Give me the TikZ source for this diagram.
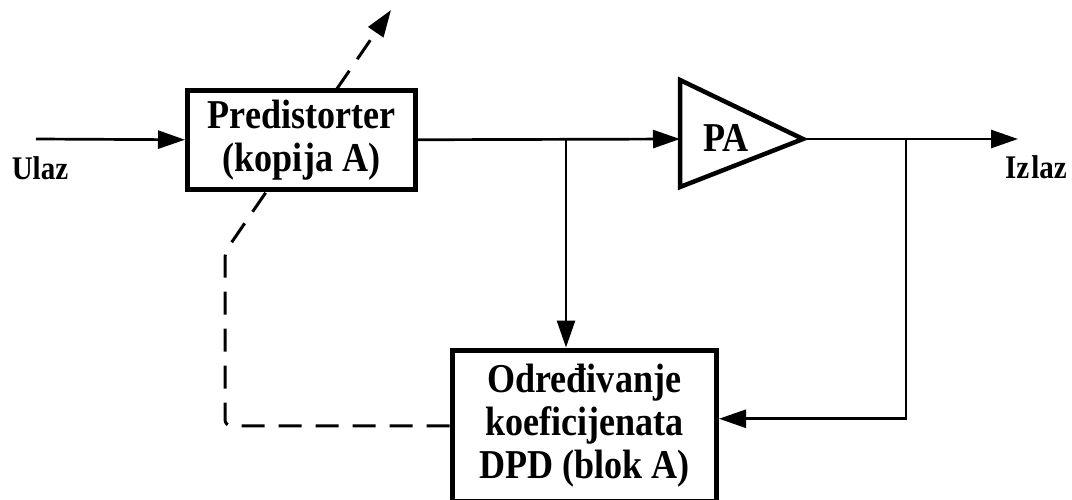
\documentclass[tikz,border=0pt]{standalone}
\usepackage{fontspec}
\setmainfont{Liberation Serif}[FakeStretch=0.88]
\usetikzlibrary{arrows.meta,backgrounds,calc}

\tikzset{
  blok/.style={draw, line width=5pt, fill=white, rectangle, align=center,
    inner sep=0pt, font=\bfseries\fontsize{41}{43}\selectfont},
  oznaka/.style={inner sep=0pt, font=\bfseries\fontsize{33}{36}\selectfont},
  vrh/.style={-{Triangle[length=27pt,width=18pt]}},
  veza/.style={line width=2.7pt, vrh},
  isprekidano/.style={line width=3pt, dash pattern=on 23pt off 14pt,
    rounded corners=6pt, vrh},
}

\begin{document}
\begin{tikzpicture}[x=1pt, y=-1pt]
  \useasboundingbox (0,0) rectangle (1072,499);

  % blocks
  \node[blok, minimum width=228pt, minimum height=99.5pt] (pre) at (301.5,139.75)
    {Predistorter\\(kopija A)};
  \node[blok, minimum width=264.5pt, minimum height=151.5pt] (dpd) at (584.25,425.75)
    {Određivanje\\koeficijenata\\DPD (blok A)};

  % power amplifier
  \coordinate (pa-in) at (680,139);
  \coordinate (pa-out) at (803,139);
  \draw[line width=4.5pt, line join=miter] (680,80) -- (pa-out) -- (680,187) -- cycle;
  \node[inner sep=0pt, font=\bfseries\fontsize{41}{43}\selectfont] (pa) at (726,138) {PA};

  % port labels
  \node[oznaka] (ulaz) at (40,168) {Ulaz};
  \node[oznaka] (izlaz) at (1036,167) {Iz\kern2pt laz};

  % signal path
  \coordinate (ul) at (36,139);
  \coordinate (iz) at (1018,139);
  \coordinate (g1) at (566,139);
  \coordinate (g2) at (906,139);
  \draw[veza] (ul) -- (pre.west);
  \draw[veza] (pre.east) -- (pa-in);
  \draw[veza] (pa-out) -- (iz);
  \draw[veza] (g1) -- (g1 |- dpd.north);
  \draw[veza] (g2) |- ([yshift=7pt]dpd.east);

  % coefficient update path (behind the predistorter block)
  \coordinate (kut) at (225,252);
  \coordinate (cilj) at (391,10);
  \begin{pgfonlayer}{background}
    \draw[isprekidano] (dpd.west) -| (kut) -- (cilj);
  \end{pgfonlayer}
\end{tikzpicture}
\end{document}
